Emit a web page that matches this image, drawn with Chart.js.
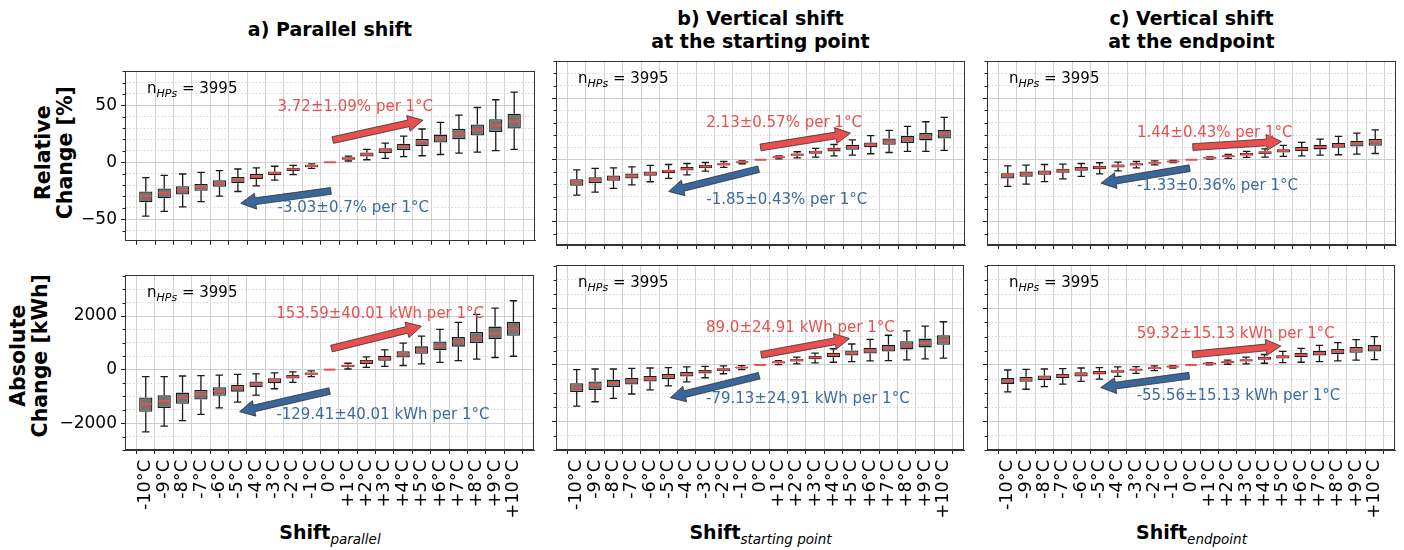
<!DOCTYPE html>
<html>
<head>
<meta charset="utf-8">
<title>Heating demand shift box plots</title>
<script src="https://cdn.jsdelivr.net/npm/chart.js@4.4.1/dist/chart.umd.min.js"></script>
<style>
    html, body { margin: 0; padding: 0; background: #fff; }
    #page { position: relative; width: 1404px; height: 550px; overflow: hidden; font-family: 'DejaVu Sans', sans-serif; color: #000; }
    #page canvas { position: absolute; }
    .title { position: absolute; text-align: center; font-weight: bold; font-size: 19px; line-height: 23.5px; white-space: nowrap; }
    .ytitle { position: absolute; text-align: center; font-weight: bold; font-size: 20.5px; line-height: 21.7px; white-space: nowrap; transform: rotate(-90deg); }
    .xtitle { position: absolute; text-align: center; font-weight: bold; font-size: 19px; line-height: 24px; white-space: nowrap; }
    .xtitle i { font-weight: normal; font-size: 13.5px; position: relative; top: 5px; }
</style>
</head>
<body>
<div id="page">
    <div class="title" style="left:125px; width:410px; top:17.7px;">a) Parallel shift</div>
    <div class="title" style="left:556px; width:409px; top:6.7px;">b) Vertical shift<br>at the starting point</div>
    <div class="title" style="left:987px; width:409px; top:6.7px;">c) Vertical shift<br>at the endpoint</div>

    <div class="ytitle" style="left:-37px; top:131.3px; width:184px;">Relative<br>Change [%]</div>
    <div class="ytitle" style="left:-63.5px; top:334.3px; width:185px;">Absolute<br>Change [kWh]</div>

    <div class="xtitle" style="left:125px; width:410px; top:520.4px;">Shift<i>parallel</i></div>
    <div class="xtitle" style="left:556px; width:409px; top:520.4px;">Shift<i>starting point</i></div>
    <div class="xtitle" style="left:987px; width:409px; top:520.4px;">Shift<i>endpoint</i></div>
</div>

<script>
// Temperature shifts on the x axis and their tick labels
const shifts = [-10, -9, -8, -7, -6, -5, -4, -3, -2, -1, 0, 1, 2, 3, 4, 5, 6, 7, 8, 9, 10];
const shiftLabels = ['-10°C', '-9°C', '-8°C', '-7°C', '-6°C', '-5°C', '-4°C', '-3°C', '-2°C', '-1°C', '0°C',
    '+1°C', '+2°C', '+3°C', '+4°C', '+5°C', '+6°C', '+7°C', '+8°C', '+9°C', '+10°C'];

// y tick values (labels only on the major ones)
const relTicks = [-60, -50, -40, -30, -20, -10, 0, 10, 20, 30, 40, 50, 60, 70, 80];
const relMajor = [-50, 0, 50];
const absTicks = [-3000, -2500, -2000, -1500, -1000, -500, 0, 500, 1000, 1500, 2000, 2500, 3000, 3500];
const absMajor = [-2000, 0, 2000];

// a) parallel shift, relative change [%]
const relParLo  = [-47.3, -43.2, -39.2, -34.6, -29.7, -25.7, -20.8, -15.7, -10.8, -5.4, 0, 1.1, 2.2, 3.5, 4.9, 5.7, 6.8, 8.1, 8.9, 10.3, 11.4];
const relParQ1  = [-35.1, -31.6, -28.4, -25.1, -21.6, -18.4, -14.9, -11.4, -7.6, -4.3, 0, 2.2, 5.1, 8.1, 10.8, 14.1, 17.3, 20.3, 23.5, 26.5, 29.7];
const relParMed = [-29.7, -27.0, -24.3, -21.6, -18.4, -15.4, -12.4, -9.5, -6.2, -3.2, 0, 3.2, 7.0, 10.3, 13.8, 17.6, 21.1, 24.9, 28.6, 32.4, 35.9];
const relParQ3  = [-25.7, -23.0, -21.0, -19.0, -15.7, -13.0, -10.3, -8.1, -4.9, -2.2, 0, 4.3, 8.6, 12.4, 16.2, 20.5, 24.3, 29.2, 33.2, 37.8, 42.7];
const relParHi  = [-13.5, -11.6, -10.3, -8.9, -7.3, -5.9, -4.9, -3.5, -2.7, -1.4, 0, 5.4, 11.4, 16.8, 23.0, 29.2, 35.1, 41.4, 48.1, 54.9, 61.6];

// b) vertical shift at the starting point, relative change [%]
const relStartLo  = [-28.6, -26.2, -23.2, -20.3, -17.8, -15.1, -12.2, -9.2, -6.2, -3.2, 0, 0.8, 1.6, 2.2, 3.2, 3.8, 4.9, 5.9, 6.8, 6.8, 7.6];
const relStartQ1  = [-21.1, -18.9, -17.0, -15.1, -13.0, -10.8, -8.6, -6.8, -4.6, -2.4, 0, 1.6, 3.2, 4.9, 6.8, 8.1, 10.3, 12.2, 13.5, 15.7, 17.3];
const relStartMed = [-18.4, -16.5, -14.6, -13.0, -11.1, -9.2, -7.3, -5.4, -3.5, -1.9, 0, 2.2, 4.1, 6.2, 8.4, 10.3, 12.2, 14.6, 16.8, 18.6, 21.1];
const relStartQ3  = [-15.7, -14.1, -12.7, -11.1, -9.5, -8.1, -5.9, -4.3, -2.7, -1.4, 0, 2.7, 5.1, 7.3, 9.7, 12.2, 14.1, 17.3, 19.5, 21.6, 24.3];
const relStartHi  = [-8.1, -7.0, -6.5, -5.7, -4.6, -3.8, -3.0, -2.2, -1.4, -0.8, 0, 3.2, 6.5, 9.2, 12.4, 16.2, 19.5, 23.8, 27.0, 30.8, 34.3];

// c) vertical shift at the endpoint, relative change [%]
const relEndLo  = [-21.6, -19.7, -17.6, -15.4, -13.5, -11.4, -8.9, -6.5, -4.1, -2.2, 0, 0.5, 1.1, 1.9, 2.2, 2.7, 3.2, 3.8, 4.1, 4.6, 5.1];
const relEndQ1  = [-15.1, -13.8, -12.2, -10.5, -8.9, -7.6, -6.2, -4.6, -3.0, -1.6, 0, 1.1, 2.2, 3.5, 4.6, 5.9, 7.0, 8.4, 9.7, 10.8, 11.4];
const relEndMed = [-12.7, -11.4, -10.3, -8.6, -7.3, -6.2, -4.9, -3.5, -2.4, -1.4, 0, 1.6, 3.0, 4.3, 5.9, 7.3, 8.6, 10.3, 11.9, 13.2, 14.6];
const relEndQ3  = [-10.8, -9.5, -8.6, -7.3, -5.9, -4.9, -3.8, -2.7, -1.9, -0.8, 0, 2.2, 3.5, 5.4, 7.0, 8.6, 10.3, 12.2, 13.5, 15.4, 16.8];
const relEndHi  = [-4.9, -4.3, -3.8, -3.5, -3.0, -2.4, -1.9, -1.4, -0.8, -0.5, 0, 2.4, 4.3, 6.8, 8.9, 11.6, 14.1, 16.8, 18.9, 21.6, 24.3];

// a) parallel shift, absolute change [kWh]
const absParLo  = [-2321, -2107, -1905, -1667, -1429, -1214, -952, -714, -476, -262, 0, 24, 83, 119, 155, 214, 274, 333, 393, 452, 500];
const absParQ1  = [-1571, -1429, -1274, -1119, -976, -821, -655, -500, -333, -190, 0, 95, 214, 333, 452, 595, 726, 857, 988, 1131, 1262];
const absParMed = [-1286, -1167, -1036, -917, -798, -667, -536, -405, -262, -155, 0, 143, 298, 429, 571, 738, 881, 1048, 1190, 1345, 1524];
const absParQ3  = [-1036, -952, -857, -762, -655, -560, -440, -321, -202, -107, 0, 179, 357, 512, 690, 869, 1048, 1214, 1405, 1607, 1786];
const absParHi  = [-262, -262, -238, -226, -202, -179, -155, -119, -83, -48, 0, 238, 476, 738, 988, 1250, 1500, 1762, 2060, 2298, 2571];

// b) vertical shift at the starting point, absolute change [kWh]
const absStartLo  = [-1452, -1298, -1179, -1024, -881, -738, -595, -452, -310, -167, 0, 12, 36, 71, 95, 119, 143, 155, 179, 214, 238];
const absStartQ1  = [-952, -881, -774, -690, -583, -500, -405, -298, -214, -119, 0, 60, 119, 202, 274, 333, 405, 476, 548, 619, 714];
const absStartMed = [-798, -714, -643, -560, -476, -405, -321, -238, -167, -95, 0, 95, 167, 262, 357, 429, 512, 595, 690, 774, 869];
const absStartQ3  = [-643, -583, -524, -452, -393, -321, -250, -179, -119, -71, 0, 119, 214, 321, 429, 512, 607, 714, 833, 929, 1048];
const absStartHi  = [-167, -143, -143, -119, -107, -95, -71, -48, -36, -24, 0, 155, 274, 417, 571, 738, 905, 1048, 1202, 1369, 1524];

// c) vertical shift at the endpoint, absolute change [kWh]
const absEndLo  = [-952, -857, -762, -679, -583, -500, -405, -298, -202, -107, 0, 0, 24, 36, 60, 83, 95, 119, 143, 167, 190];
const absEndQ1  = [-679, -595, -536, -464, -405, -333, -274, -202, -143, -83, 0, 24, 71, 119, 179, 226, 274, 333, 381, 429, 476];
const absEndMed = [-560, -500, -440, -381, -321, -274, -214, -167, -107, -60, 0, 48, 107, 167, 226, 286, 357, 417, 476, 536, 607];
const absEndQ3  = [-464, -417, -369, -321, -262, -214, -167, -131, -83, -48, 0, 71, 131, 202, 286, 345, 429, 500, 560, 631, 714];
const absEndHi  = [-179, -155, -143, -131, -107, -95, -71, -60, -36, -24, 0, 83, 167, 274, 369, 476, 583, 690, 786, 893, 1000];

const nHPs = 3995;

const RED = '#e8504f';
const BLUE = '#3a6699';
const RED_TEXT = '#e8504f';
const BLUE_TEXT = '#3d6aa0';

// Panel layout (plot area in page pixels)
const colLeft = [125, 556, 987];
const colWidth = [410, 409, 409];
const rowTop = [61, 265];
const rowHeight = [184, 185];

// Arrows are [x tail, y tail, x head, y head], labels [x left, y centre], in data units
const panels = [
    { row: 0, col: 0, lo: relParLo, q1: relParQ1, med: relParMed, q3: relParQ3, hi: relParHi,
      up: [0.15, 19.5, 5.05, 37], down: [0.05, -25.2, -4.85, -36],
      upLabel: [-2.85, 48.5], downLabel: [-2.85, -40],
      upText: '3.72±1.09% per 1°C', downText: '-3.03±0.7% per 1°C' },
    { row: 0, col: 1, lo: relStartLo, q1: relStartQ1, med: relStartMed, q3: relStartQ3, hi: relStartHi,
      up: [0.0, 10, 4.9, 21.6], down: [-0.1, -7.6, -5.0, -25.7],
      upLabel: [-2.95, 29.8], downLabel: [-2.95, -32.4],
      upText: '2.13±0.57% per 1°C', downText: '-1.85±0.43% per 1°C' },
    { row: 0, col: 2, lo: relEndLo, q1: relEndQ1, med: relEndMed, q3: relEndQ3, hi: relEndHi,
      up: [0.07, 10.3, 4.9, 14.8], down: [-0.1, -6.8, -4.93, -18.9],
      upLabel: [-2.97, 21.6], downLabel: [-2.97, -21.6],
      upText: '1.44±0.43% per 1°C', downText: '-1.33±0.36% per 1°C' },
    { row: 1, col: 0, lo: absParLo, q1: absParQ1, med: absParMed, q3: absParQ3, hi: absParHi,
      up: [0.1, 786, 5.0, 1619], down: [0.0, -798, -4.9, -1571],
      upLabel: [-2.9, 2060], downLabel: [-2.9, -1690],
      upText: '153.59±40.01 kWh per 1°C', downText: '-129.41±40.01 kWh per 1°C' },
    { row: 1, col: 1, lo: absStartLo, q1: absStartQ1, med: absStartMed, q3: absStartQ3, hi: absStartHi,
      up: [0.06, 357, 4.88, 929], down: [-0.05, -381, -4.9, -1155],
      upLabel: [-2.95, 1310], downLabel: [-2.95, -1190],
      upText: '89.0±24.91 kWh per 1°C', downText: '-79.13±24.91 kWh per 1°C' },
    { row: 1, col: 2, lo: absEndLo, q1: absEndQ1, med: absEndMed, q3: absEndQ3, hi: absEndHi,
      up: [0.07, 369, 4.9, 667], down: [-0.1, -381, -4.93, -798],
      upLabel: [-2.97, 1071], downLabel: [-2.97, -1095],
      upText: '59.32±15.13 kWh per 1°C', downText: '-55.56±15.13 kWh per 1°C' },
];

Chart.defaults.font.family = "'DejaVu Sans', sans-serif";
Chart.defaults.color = '#000';

function fmtTick(v) {
    return v < 0 ? '\u2212' + Math.abs(v) : String(v);
}

// Fat arrow (shaft + triangular head) between two pixel points
function drawArrow(ctx, x0, y0, x1, y1, fill) {
    const dx = x1 - x0, dy = y1 - y0;
    const len = Math.hypot(dx, dy);
    const ux = dx / len, uy = dy / len;
    const nx = -uy, ny = ux;
    const shaft = 3.4, head = 8, headLen = 15;
    const bx = x1 - ux * headLen, by = y1 - uy * headLen;
    ctx.save();
    ctx.beginPath();
    ctx.moveTo(x0 + nx * shaft, y0 + ny * shaft);
    ctx.lineTo(bx + nx * shaft, by + ny * shaft);
    ctx.lineTo(bx + nx * head, by + ny * head);
    ctx.lineTo(x1, y1);
    ctx.lineTo(bx - nx * head, by - ny * head);
    ctx.lineTo(bx - nx * shaft, by - ny * shaft);
    ctx.lineTo(x0 - nx * shaft, y0 - ny * shaft);
    ctx.closePath();
    ctx.fillStyle = fill;
    ctx.fill();
    ctx.lineWidth = 0.7;
    ctx.strokeStyle = '#222';
    ctx.stroke();
    ctx.restore();
}

function boxPlugin(p, majors) {
    return {
        id: 'boxPlot',
        // whiskers and caps go under the boxes
        beforeDatasetsDraw(chart) {
            const { ctx, scales: { y } } = chart;
            const bars = chart.getDatasetMeta(0).data;
            ctx.save();
            ctx.strokeStyle = '#1a1a1a';
            ctx.lineWidth = 1.3;
            bars.forEach((bar, i) => {
                if (p.lo[i] === p.hi[i]) return;
                const cap = bar.width * 0.28;
                const yLo = y.getPixelForValue(p.lo[i]);
                const yHi = y.getPixelForValue(p.hi[i]);
                ctx.beginPath();
                ctx.moveTo(bar.x, y.getPixelForValue(p.q1[i]));
                ctx.lineTo(bar.x, yLo);
                ctx.moveTo(bar.x, y.getPixelForValue(p.q3[i]));
                ctx.lineTo(bar.x, yHi);
                ctx.moveTo(bar.x - cap, yLo);
                ctx.lineTo(bar.x + cap, yLo);
                ctx.moveTo(bar.x - cap, yHi);
                ctx.lineTo(bar.x + cap, yHi);
                ctx.stroke();
            });
            ctx.restore();
        },
        afterDatasetsDraw(chart) {
            const { ctx, scales: { x, y } } = chart;
            const bars = chart.getDatasetMeta(0).data;
            // medians
            ctx.save();
            ctx.strokeStyle = RED;
            ctx.lineWidth = 2;
            bars.forEach((bar, i) => {
                const ym = y.getPixelForValue(p.med[i]);
                ctx.beginPath();
                ctx.moveTo(bar.x - bar.width / 2 + 0.8, ym);
                ctx.lineTo(bar.x + bar.width / 2 - 0.8, ym);
                ctx.stroke();
            });
            ctx.restore();

            // trend arrows and their labels
            const px = (v) => x.getPixelForValue(v);
            const py = (v) => y.getPixelForValue(v);
            drawArrow(ctx, px(p.up[0]), py(p.up[1]), px(p.up[2]), py(p.up[3]), RED);
            drawArrow(ctx, px(p.down[0]), py(p.down[1]), px(p.down[2]), py(p.down[3]), BLUE);
            ctx.save();
            ctx.font = "15px 'DejaVu Sans'";
            ctx.textAlign = 'left';
            ctx.textBaseline = 'middle';
            ctx.fillStyle = RED_TEXT;
            ctx.fillText(p.upText, px(p.upLabel[0]), py(p.upLabel[1]));
            ctx.fillStyle = BLUE_TEXT;
            ctx.fillText(p.downText, px(p.downLabel[0]), py(p.downLabel[1]));
            ctx.restore();
        },
        afterDraw(chart) {
            const { ctx, chartArea: a, scales: { y } } = chart;
            ctx.save();
            // frame
            ctx.strokeStyle = '#333';
            ctx.lineWidth = 1;
            ctx.strokeRect(Math.round(a.left) + 0.5, Math.round(a.top) + 0.5,
                Math.round(a.right - a.left) - 1, Math.round(a.bottom - a.top) - 1);
            // short minor ticks on the y axis
            ctx.strokeStyle = '#222';
            y.ticks.forEach((t) => {
                if (majors.includes(t.value)) return;
                const yy = Math.round(y.getPixelForValue(t.value)) + 0.5;
                ctx.beginPath();
                ctx.moveTo(a.left - 2.5, yy);
                ctx.lineTo(a.left, yy);
                ctx.stroke();
            });
            // sample size
            ctx.fillStyle = '#000';
            ctx.textBaseline = 'alphabetic';
            ctx.textAlign = 'left';
            let tx = a.left + 22;
            const base = a.top + 22;
            ctx.font = "15px 'DejaVu Sans'";
            ctx.fillText('n', tx, base);
            tx += ctx.measureText('n').width;
            ctx.font = "italic 11px 'DejaVu Sans'";
            ctx.fillText('HPs', tx, base + 3.5);
            tx += ctx.measureText('HPs').width;
            ctx.font = "15px 'DejaVu Sans'";
            ctx.fillText(' = ' + nHPs, tx, base);
            ctx.restore();
        }
    };
}

function makePanel(p) {
    const yW = p.col === 0 ? 80 : 12;
    const xH = p.row === 1 ? 80 : 10;
    const padTop = 4, padRight = 6;
    const w = colWidth[p.col], h = rowHeight[p.row];
    const ticks = p.row === 0 ? relTicks : absTicks;
    const majors = p.row === 0 ? relMajor : absMajor;
    const yMin = p.row === 0 ? -69 : -3000;
    const yMax = p.row === 0 ? 80 : 3525;

    const canvas = document.createElement('canvas');
    canvas.width = yW + w + padRight;
    canvas.height = padTop + h + xH;
    canvas.style.left = (colLeft[p.col] - yW) + 'px';
    canvas.style.top = (rowTop[p.row] - padTop) + 'px';
    canvas.style.width = canvas.width + 'px';
    canvas.style.height = canvas.height + 'px';
    document.getElementById('page').appendChild(canvas);

    new Chart(canvas.getContext('2d'), {
        type: 'bar',
        data: {
            datasets: [{
                data: shifts.map((s, i) => ({ x: s, y: [p.q1[i], p.q3[i]] })),
                backgroundColor: '#737373',
                borderColor: '#1a1a1a',
                borderWidth: (c) => (p.q3[c.dataIndex] === p.q1[c.dataIndex] ? 0 : 1.3),
                borderSkipped: false,
                barPercentage: 0.72,
                categoryPercentage: 1,
            }]
        },
        options: {
            responsive: false,
            animation: false,
            devicePixelRatio: 1,
            layout: { padding: { top: padTop, right: padRight, left: 0, bottom: 0 } },
            plugins: {
                legend: { display: false },
                tooltip: { enabled: false },
            },
            scales: {
                x: {
                    type: 'linear',
                    min: -10.6,
                    max: 10.6,
                    afterBuildTicks: (s) => { s.ticks = shifts.map(v => ({ value: v })); },
                    afterFit: (s) => { s.height = xH; },
                    ticks: {
                        display: p.row === 1,
                        autoSkip: false,
                        minRotation: 90,
                        maxRotation: 90,
                        padding: 6,
                        font: { size: 17.7 },
                        color: '#000',
                        callback: (v, i) => shiftLabels[i],
                    },
                    grid: { color: '#d2d2d2', lineWidth: 1, tickLength: 4, tickColor: '#222' },
                    border: { color: '#333', width: 1 },
                },
                y: {
                    min: yMin,
                    max: yMax,
                    afterBuildTicks: (s) => { s.ticks = ticks.map(v => ({ value: v })); },
                    afterFit: (s) => { s.width = yW; },
                    ticks: {
                        display: p.col === 0,
                        autoSkip: false,
                        padding: 4,
                        font: { size: 17 },
                        color: '#000',
                        callback: (v) => (majors.includes(v) ? fmtTick(v) : ''),
                    },
                    grid: {
                        color: (c) => (c.tick && majors.includes(c.tick.value) ? '#cfcfcf' : '#d6d6d6'),
                        lineWidth: 1,
                        tickLength: 4,
                        tickColor: (c) => (c.tick && majors.includes(c.tick.value) ? '#222' : 'rgba(0,0,0,0)'),
                    },
                    border: {
                        color: '#333',
                        width: 1,
                        dash: (c) => (c.tick && !majors.includes(c.tick.value) ? [1.5, 2] : []),
                    },
                }
            }
        },
        plugins: [boxPlugin(p, majors)]
    });
}

panels.forEach(makePanel);
</script>
</body>
</html>
